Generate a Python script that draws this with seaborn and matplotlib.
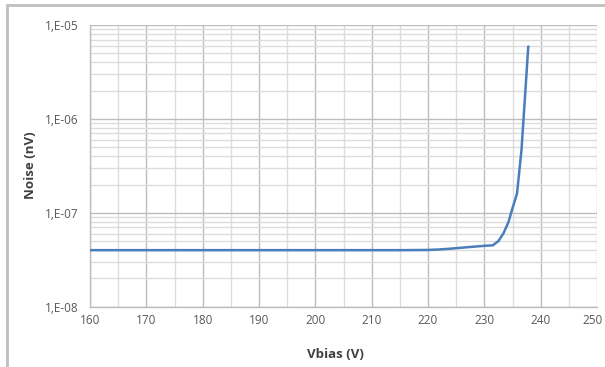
import numpy as np
import pandas as pd
import matplotlib
matplotlib.use("Agg")
import matplotlib.pyplot as plt
import matplotlib.ticker as mticker
import matplotlib.transforms as mtransforms
from matplotlib.lines import Line2D
import seaborn as sns

# Bias voltage sweep (V) and measured noise
vbias = [160, 165, 170, 175, 180, 185, 190, 195, 200, 205, 210, 215, 220,
         222, 224, 226, 228, 230, 231.5, 232.5, 233.4, 234.3, 234.9, 235.8,
         236.6, 237.2, 237.8]
noise = [4.0e-8, 4.0e-8, 4.0e-8, 4.0e-8, 4.0e-8, 4.0e-8, 4.0e-8, 4.0e-8,
         4.0e-8, 4.0e-8, 4.0e-8, 4.0e-8, 4.02e-8,
         4.07e-8, 4.15e-8, 4.25e-8, 4.35e-8, 4.45e-8, 4.5e-8, 5.0e-8, 6.05e-8,
         8.0e-8, 1.07e-7, 1.6e-7,
         4.7e-7, 1.66e-6, 5.9e-6]

x_ticks = [160, 170, 180, 190, 200, 210, 220, 230, 240, 250]
y_ticks = [1e-8, 1e-7, 1e-6, 1e-5]
y_tick_labels = ["1,E-08", "1,E-07", "1,E-06", "1,E-05"]

df = pd.DataFrame({"Vbias": vbias, "Noise": noise})

sns.set_theme(style="white")
plt.rcParams["font.family"] = ["Open Sans", "DejaVu Sans"]

fig = plt.figure(figsize=(6.05, 3.67), dpi=100)
ax = fig.add_axes([90 / 605, 1 - 306.7 / 367, (597 - 90) / 605, (306.7 - 25) / 367])

# outer chart frame: top and left edges
frame_kw = dict(transform=fig.transFigure, color="#BFBFBF", linewidth=2)
fig.lines.append(Line2D([7 / 605, 1.0], [1 - 5 / 367, 1 - 5 / 367], **frame_kw))
fig.lines.append(Line2D([7 / 605, 7 / 605], [0.0, 1 - 5 / 367], **frame_kw))

ax.set_yscale("log")
ax.set_xlim(160, 250)
ax.set_ylim(1e-8, 1e-5)

ax.set_xticks(x_ticks)
ax.set_xticks(np.arange(165, 250, 10), minor=True)
ax.set_yticks(y_ticks)
ax.set_yticklabels(y_tick_labels)
ax.yaxis.set_minor_locator(mticker.LogLocator(base=10, subs=np.arange(2, 10)))
ax.yaxis.set_minor_formatter(mticker.NullFormatter())

ax.grid(which="major", color="#BDBDBD", linewidth=1.0)
ax.grid(which="minor", color="#DCDCDC", linewidth=1.0)
ax.set_axisbelow(True)

sns.lineplot(data=df, x="Vbias", y="Noise", ax=ax, color="#4A7EBB",
             linewidth=1.8, zorder=3)

for s in ["top", "right"]:
    ax.spines[s].set_visible(False)
for s in ["left", "bottom"]:
    ax.spines[s].set_color("#BDBDBD")
    ax.spines[s].set_linewidth(1.0)

ax.tick_params(axis="both", which="major", labelsize=8.5, labelcolor="#595959",
               color="#BDBDBD", length=4, width=1)
ax.tick_params(axis="x", which="major", length=0, pad=5)
ax.tick_params(axis="y", which="major", length=5, direction="out", pad=3)
ax.tick_params(which="minor", length=0)

# keep the last x label inside the image
last = ax.get_xticklabels()[-1]
last.set_transform(last.get_transform() +
                   mtransforms.ScaledTranslation(-4 / 100, 0, fig.dpi_scale_trans))

ax.set_xlabel("")
ax.set_ylabel("")
fig.text(335 / 605, 1 - 355 / 367, "Vbias (V)", ha="center", va="center",
         fontsize=9.5, fontweight="bold", color="#404040")
fig.text(30 / 605, 1 - 165 / 367, "Noise (nV)", ha="center", va="center",
         rotation=90, fontsize=9.5, fontweight="bold", color="#404040")

fig.savefig("out.png", dpi=100)
